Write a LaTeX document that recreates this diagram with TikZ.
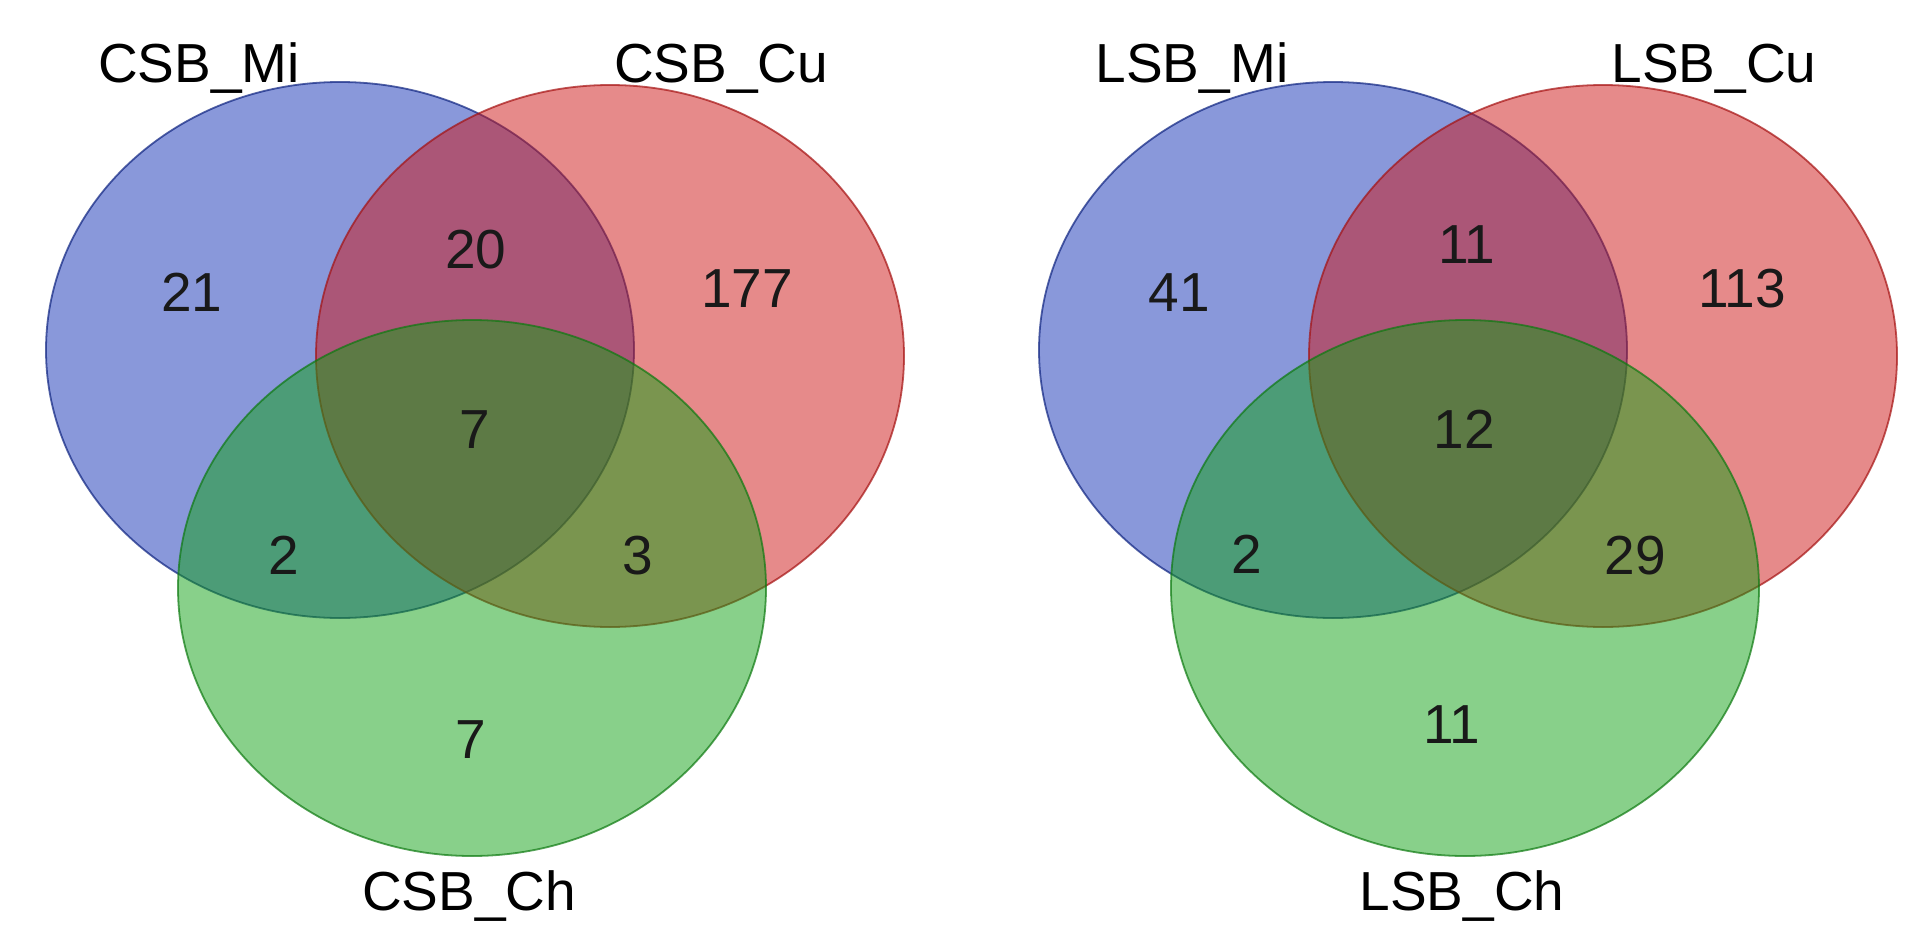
\documentclass[tikz,border=0pt]{standalone}
\usepackage{fontspec}
\setmainfont{Liberation Sans}
\definecolor{vblue}{RGB}{19,49,181}
\definecolor{vred}{RGB}{205,21,21}
\definecolor{vgreen}{RGB}{17,161,21}
\tikzset{
  setA/.style={fill=vblue, fill opacity=0.5, draw=vblue!70!black, draw opacity=0.7, line width=1.8pt},
  setB/.style={fill=vred, fill opacity=0.5, draw=vred!80!black, draw opacity=0.7, line width=1.8pt},
  setC/.style={fill=vgreen, fill opacity=0.5, draw=vgreen!75!black, draw opacity=0.7, line width=1.8pt},
  lbl/.style={anchor=base, inner sep=0pt, font=\fontsize{55}{60}\selectfont, text=black},
  num/.style={anchor=base, inner sep=0pt, font=\fontsize{55}{60}\selectfont, text=black!90}
}
\begin{document}
\begin{tikzpicture}[x=1pt,y=-1pt]
\useasboundingbox (0,0) rectangle (1913,942);
% ---------- left diagram ----------
\begin{scope}
\path[setA] (340,350) ellipse [x radius=294, y radius=268];
\path[setB] (610,356) ellipse [x radius=294, y radius=271];
\path[setC] (472,588) ellipse [x radius=294, y radius=268];
\node[lbl] (lMi) at (199,82) {CSB\_Mi};
\node[lbl] (lCu) at (721,82) {CSB\_Cu};
\node[lbl] (lCh) at (469,910) {CSB\_Ch};
\node[num] (l1) at (192,311) {21};
\node[num] (l2) at (476,268) {20};
\node[num] (l3) at (747,307) {177};
\node[num] (l4) at (475,448) {7};
\node[num] (l5) at (284,574) {2};
\node[num] (l6) at (638,574) {3};
\node[num] (l7) at (471,758) {7};
\end{scope}
% ---------- right diagram ----------
\begin{scope}[xshift=993pt]
\path[setA] (340,350) ellipse [x radius=294, y radius=268];
\path[setB] (610,356) ellipse [x radius=294, y radius=271];
\path[setC] (472,588) ellipse [x radius=294, y radius=268];
\node[lbl] (rMi) at (199,82) {LSB\_Mi};
\node[lbl] (rCu) at (721,82) {LSB\_Cu};
\node[lbl] (rCh) at (469,910) {LSB\_Ch};
\node[num] (r1) at (186,311) {41};
\node[num] (r2) at (474,263) {11};
\node[num] (r3) at (749,307) {113};
\node[num] (r4) at (471,448) {12};
\node[num] (r5) at (254,573) {2};
\node[num] (r6) at (642,574) {29};
\node[num] (r7) at (459,743) {11};
\end{scope}
\end{tikzpicture}
\end{document}
